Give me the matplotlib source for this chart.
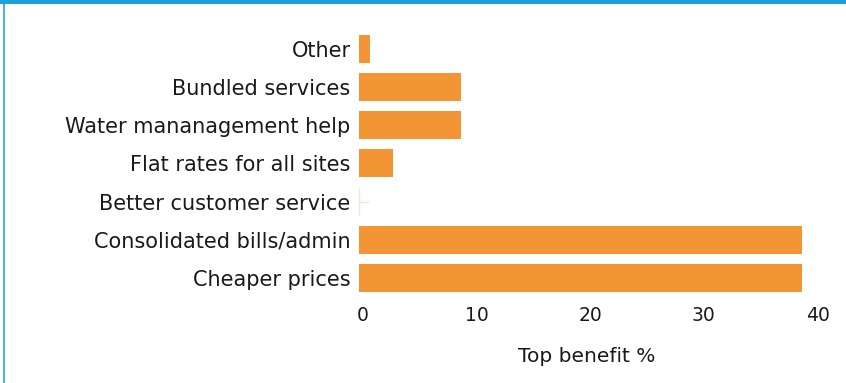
import matplotlib.pyplot as plt
import matplotlib.transforms as mtransforms
from matplotlib.patches import Rectangle

# Share of respondents naming each item as the top benefit
categories = [
    "Cheaper prices",
    "Consolidated bills/admin",
    "Better customer service",
    "Flat rates for all sites",
    "Water mananagement help",
    "Bundled services",
    "Other",
]
values = [39, 39, 0, 3, 9, 9, 1]
xticks = [0, 10, 20, 30, 40]

BAR = "#F39435"
TEXT = "#1a1a1a"
BLUE = "#1BA1DB"

plt.rcParams["font.family"] = ["DejaVu Sans"]

fig = plt.figure(figsize=(8.46, 3.83), dpi=100)
ax = fig.add_axes([359 / 846, 1 - 297 / 383, (813.5 - 359) / 846, (297 - 29.7) / 383])

ypos = range(len(categories))
ax.barh(ypos, values, height=0.73, color=BAR, edgecolor="none")
# zero-valued bars still get a faint marker at the baseline
for y, v in zip(ypos, values):
    if v == 0:
        ax.plot([0, 0], [y - 0.36, y + 0.36], color=BAR, alpha=0.25, lw=1)
        ax.plot([0, 0.8], [y, y], color=BAR, alpha=0.25, lw=1)

ax.set_xlim(0, 40)
ax.set_ylim(-0.5, len(categories) - 0.5)
ax.set_xticks(xticks)
ax.set_yticks(list(ypos))
ax.set_yticklabels(categories)

ax.tick_params(axis="both", length=0, colors=TEXT)
ax.tick_params(axis="y", pad=6, labelsize=15)
ax.tick_params(axis="x", pad=6.5, labelsize=13.5)
shift = mtransforms.ScaledTranslation(4 / 100, 0, fig.dpi_scale_trans)
for lbl in ax.get_xticklabels():
    lbl.set_transform(lbl.get_transform() + shift)

for s in ax.spines.values():
    s.set_visible(False)

ax.set_xlabel("Top benefit %", fontsize=14.5, color=TEXT, labelpad=16)

# frame: blue band along the top and a thin line down the left
fig.patches.append(Rectangle((0, 1 - 4 / 383), 1, 4 / 383, transform=fig.transFigure,
                             facecolor=BLUE, edgecolor="none"))
fig.patches.append(Rectangle((3 / 846, 0), 1.5 / 846, 1, transform=fig.transFigure,
                             facecolor=BLUE, edgecolor="none", alpha=0.8))

fig.savefig("out.png", dpi=100)
